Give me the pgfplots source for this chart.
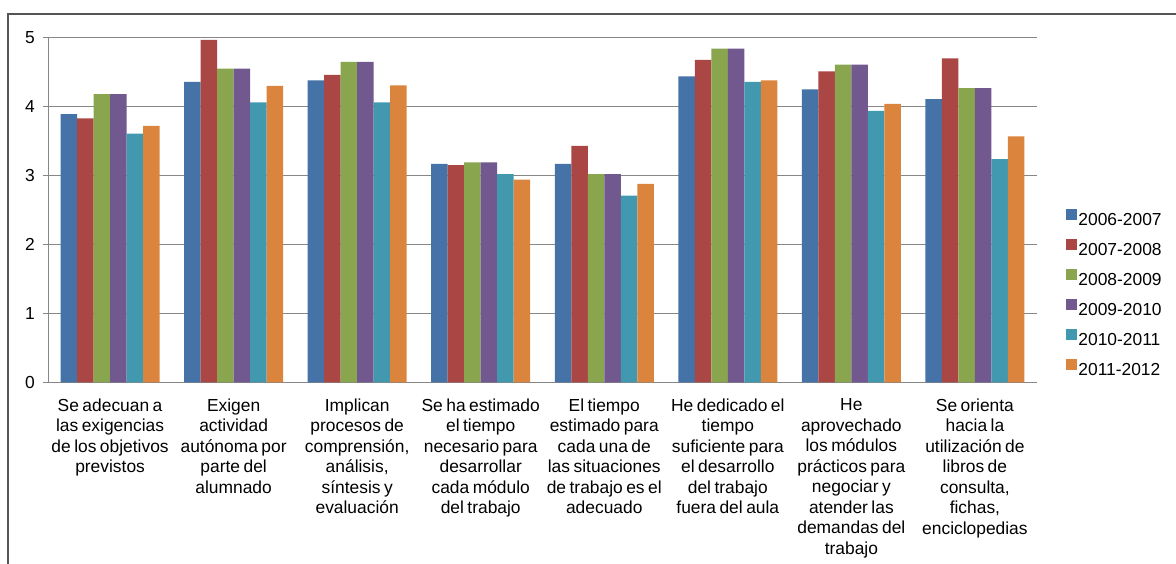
\documentclass[border=0pt]{standalone}
\usepackage{pgfplots}
\pgfplotsset{compat=1.18}
\usepackage{fontspec}
\setmainfont{Liberation Sans}
\definecolor{cA}{HTML}{4572A7}
\definecolor{cB}{HTML}{AA4643}
\definecolor{cC}{HTML}{89A54E}
\definecolor{cD}{HTML}{71588F}
\definecolor{cE}{HTML}{4198AF}
\definecolor{cF}{HTML}{DB843D}
\definecolor{gridc}{RGB}{135,135,135}
\definecolor{framec}{RGB}{85,85,85}
\newcommand\lbfont{\fontsize{8.7}{10.25}\selectfont\spaceskip=0.2em plus 0.05em minus 0.05em\relax}
\begin{document}
\begin{tikzpicture}
\draw[framec, line width=0.9pt] (4pt,-5pt) -- (4pt,274.5pt) -- (600pt,274.5pt);
\begin{axis}[
  at={(24.15pt,90.35pt)}, anchor=south west,
  scale only axis, width=494.2pt, height=172.3pt,
  ybar=0pt, bar width=8.25pt,
  xmin=-0.5, xmax=7.5, ymin=0, ymax=5,
  axis x line*=bottom, axis y line*=left,
  axis line style={gridc, line width=0.5pt, -},
  ytick={0,1,2,3,4,5},
  ymajorgrids, grid style={gridc, line width=0.5pt},
  tick align=outside,
  major tick length=2.5pt,
  tick style={gridc, line width=0.5pt},
  xtick={0,...,7},
  x tick style={draw=none},
  extra x ticks={-0.5,0.5,1.5,2.5,3.5,4.5,5.5,6.5,7.5},
  extra x tick labels={},
  extra x tick style={grid=none, tick style={gridc, line width=0.5pt, draw=gridc}, major tick length=3pt},
  xticklabels={
    {Se adecuan a\\las exigencias\\de los objetivos\\previstos},
    {Exigen\\actividad\\autónoma por\\parte del\\alumnado},
    {Implican\\procesos de\\comprensión,\\análisis,\\síntesis y\\evaluación},
    {Se ha estimado\\el tiempo\\necesario para\\desarrollar\\cada módulo\\del trabajo},
    {El tiempo\\estimado para\\cada una de\\las situaciones\\de trabajo es el\\adecuado},
    {He dedicado el\\tiempo\\suficiente para\\el desarrollo\\del trabajo\\fuera del aula},
    {He\\aprovechado\\los módulos\\prácticos para\\negociar y\\atender las\\demandas del\\trabajo},
    {Se orienta\\hacia la\\utilización de\\libros de\\consulta,\\fichas,\\enciclopedias}},
  xticklabel style={align=center, inner sep=0pt, anchor=north, yshift=-5.5pt,
    font=\lbfont},
  yticklabel style={font=\fontsize{8.7}{10}\selectfont, inner sep=0pt, xshift=-4pt},
  /pgf/number format/assume math mode=true,
  legend style={at={(1.0236,0.259)}, anchor=west, draw=none, fill=none,
    font=\fontsize{8.7}{10}\selectfont,
    nodes={inner sep=0.5pt, text height=6.2pt, text depth=0pt},
    row sep=6.1pt},
  legend cell align=left,
  legend image code/.code={\fill[#1] (0pt,-0.2pt) rectangle (5.5pt,5.3pt);},
]
\addplot[fill=cA, draw=none] coordinates {(0,3.89) (1,4.36) (2,4.38) (3,3.17) (4,3.17) (5,4.44) (6,4.25) (7,4.11)};
\addplot[fill=cB, draw=none] coordinates {(0,3.83) (1,4.97) (2,4.46) (3,3.15) (4,3.43) (5,4.68) (6,4.51) (7,4.70)};
\addplot[fill=cC, draw=none] coordinates {(0,4.18) (1,4.55) (2,4.65) (3,3.19) (4,3.02) (5,4.84) (6,4.61) (7,4.27)};
\addplot[fill=cD, draw=none] coordinates {(0,4.18) (1,4.55) (2,4.65) (3,3.19) (4,3.02) (5,4.84) (6,4.61) (7,4.27)};
\addplot[fill=cE, draw=none] coordinates {(0,3.61) (1,4.06) (2,4.06) (3,3.02) (4,2.71) (5,4.36) (6,3.94) (7,3.24)};
\addplot[fill=cF, draw=none] coordinates {(0,3.72) (1,4.30) (2,4.31) (3,2.94) (4,2.88) (5,4.38) (6,4.04) (7,3.57)};
\legend{2006-2007,2007-2008,2008-2009,2009-2010,2010-2011,2011-2012}
\end{axis}
\pgfresetboundingbox
\path[use as bounding box] (0,0) rectangle (588pt,281.5pt);
\end{tikzpicture}
\end{document}
